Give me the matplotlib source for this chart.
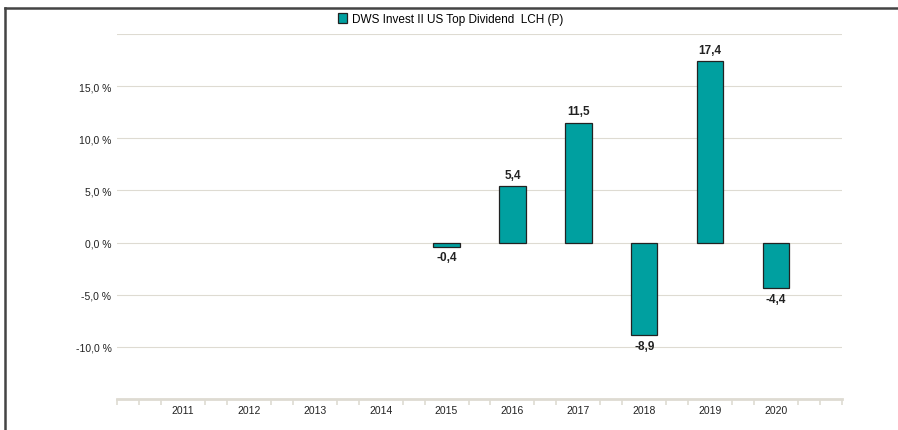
import numpy as np
import matplotlib.pyplot as plt
from matplotlib.lines import Line2D
from matplotlib.ticker import MultipleLocator

plt.rcParams["font.family"] = ["Liberation Sans", "DejaVu Sans"]

# Annual performance, DWS Invest II US Top Dividend LCH (P)
years = ["2011", "2012", "2013", "2014", "2015", "2016", "2017", "2018", "2019", "2020"]
values = [np.nan, np.nan, np.nan, np.nan, -0.4, 5.4, 11.5, -8.9, 17.4, -4.4]
series_name = "DWS Invest II US Top Dividend  LCH (P)"

bar_color = "#00A0A0"
grid_color = "#dedbd2"

fig = plt.figure(figsize=(8.98, 4.31), dpi=100)
ax = fig.add_axes([117 / 898, 1 - 400 / 431, (842 - 117) / 898, (400 - 35) / 431])

x = np.arange(len(years))
bars = ax.bar(x, values, width=0.4, color=bar_color, edgecolor="#222222",
              linewidth=0.9, zorder=3, label=series_name)

# value labels
for xi, v in zip(x, values):
    if np.isnan(v):
        continue
    txt = f"{v:.1f}".replace(".", ",")
    if v >= 0:
        ax.annotate(txt, (xi, v), xytext=(0, 4), textcoords="offset points",
                    ha="center", va="bottom", fontsize=8.5, fontweight="bold", color="#222222")
    else:
        ax.annotate(txt, (xi, v), xytext=(0, -3), textcoords="offset points",
                    ha="center", va="top", fontsize=8.5, fontweight="bold", color="#222222")

ax.set_xlim(-1, 10)
ax.set_ylim(-15, 20)

# y axis: gridlines every 5, labels only -10..15
ax.set_yticks([-15, -10, -5, 0, 5, 10, 15, 20])
ylabels = ["", "-10,0 %", "-5,0 %", "0,0 %", "5,0 %", "10,0 %", "15,0 %", ""]
ax.set_yticklabels(ylabels)
ax.tick_params(axis="y", length=0, pad=4, labelsize=7.5, labelcolor="#222222")
ax.grid(axis="y", color=grid_color, linewidth=0.8, zorder=0)

# x axis
ax.set_xticks(x)
ax.set_xticklabels(years)
ax.xaxis.set_minor_locator(MultipleLocator(1 / 3))
ax.tick_params(axis="x", which="major", length=0, pad=4, labelsize=7.5, labelcolor="#222222")
ax.tick_params(axis="x", which="minor", length=4, width=1.2, color=grid_color, direction="out")

for side in ["top", "right", "left"]:
    ax.spines[side].set_visible(False)
ax.spines["bottom"].set_color(grid_color)
ax.spines["bottom"].set_linewidth(2)

# legend at top
ax.legend(handles=[bars], loc="lower center", bbox_to_anchor=(0.46, 1.005),
          frameon=False, fontsize=8.5, handlelength=0.8, handleheight=0.8,
          handletextpad=0.4, borderaxespad=0.2)

# frame lines on top and left of the image
fig.add_artist(Line2D([4.5 / 898, 1], [1 - 9 / 431, 1 - 9 / 431], color="#444444", linewidth=1.8))
fig.add_artist(Line2D([4.5 / 898, 4.5 / 898], [0, 1 - 9 / 431], color="#444444", linewidth=1.8))

fig.savefig("out.png", dpi=100)
